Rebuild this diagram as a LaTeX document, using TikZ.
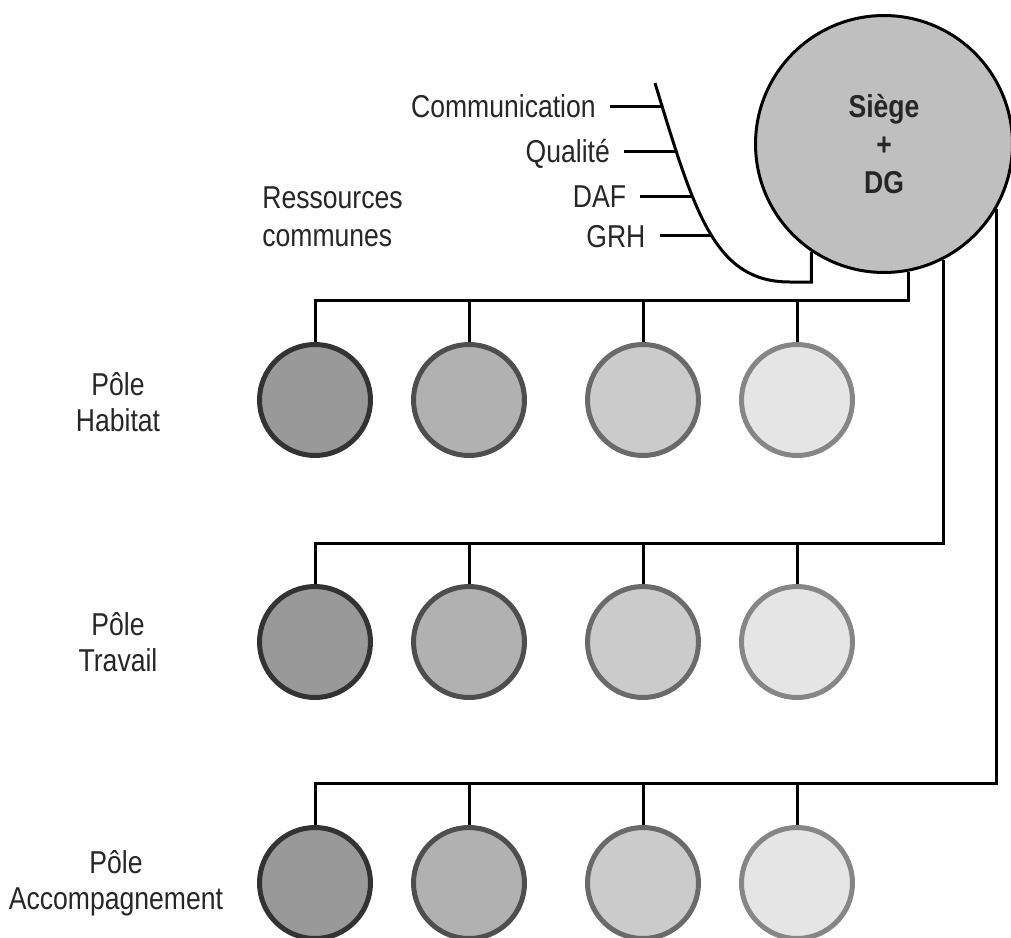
\documentclass[tikz,border=0pt]{standalone}
\usepackage{fontspec}
\setmainfont{Liberation Sans}[FakeStretch=0.84]
\usepackage{tikz}
\usetikzlibrary{positioning}
\definecolor{f1}{HTML}{999999}
\definecolor{f2}{HTML}{B1B1B1}
\definecolor{f3}{HTML}{CBCBCB}
\definecolor{f4}{HTML}{E5E5E5}
\definecolor{d1}{HTML}{333333}
\definecolor{d2}{HTML}{4E4E4E}
\definecolor{d3}{HTML}{6A6A6A}
\definecolor{d4}{HTML}{868686}
\tikzset{
    CI/.style ={circle, minimum size=2.22cm, inner sep=0pt, line width=0.1cm},
    SG/.style ={circle, minimum size=5.14cm, inner sep=0pt, draw, line width=0.06cm, fill=black!25,
                align=center, font=\bfseries\fontsize{18pt}{21.6pt}\selectfont, text=black!85},
    LB/.style ={inner ysep=0pt, inner xsep=0.28cm, text height=0.46cm, text depth=0pt,
                font=\fontsize{18pt}{20.5pt}\selectfont, text=black!85},
    PL/.style ={inner sep=0pt, align=center, font=\fontsize{18pt}{20.5pt}\selectfont, text=black!85},
    LN/.style ={line width=0.06cm}
}
\begin{document}
\begin{tikzpicture}[x=0.02cm,y=-0.02cm]
        \useasboundingbox (0,0) rectangle (1011,937);
        \node[SG] (siege) at (884,144) {Siège\\+\\DG};
        % poles
        \foreach \r/\y in {h/400,t/642,a/883}{
            \foreach \i/\x in {1/315,2/469,3/643,4/797}{
                \node[CI, fill=f\i, draw=d\i] (\r\i) at (\x,\y) {};}}
        \node[PL] (habitat) at (118,402) {Pôle\\Habitat};
        \node[PL] (travail) at (118,642) {Pôle\\Travail};
        \node[PL] (accomp) at (116,883) {Pôle\\Accompagnement};
        % bus lines
        \coordinate (bus1) at (315,300);
        \coordinate (bus2) at (315,543);
        \coordinate (bus3) at (315,783);
        \draw[LN] (siege.281) |- (bus1) -- (h1.north);
        \draw[LN] (siege.297) |- (bus2) -- (t1.north);
        \draw[LN] (siege.330) |- (bus3) -- (a1.north);
        \foreach \i in {2,3,4}{
            \draw[LN] (h\i.north) -- (h\i.north |- bus1);
            \draw[LN] (t\i.north) -- (t\i.north |- bus2);
            \draw[LN] (a\i.north) -- (a\i.north |- bus3);}
        % ressources communes
        \coordinate (rc) at (655,83);
        \draw[LN] (rc) .. controls (695,215) and (715,282) .. (790,282)
                  coordinate[pos=0.06] (k1) coordinate[pos=0.19] (k2)
                  coordinate[pos=0.345] (k3) coordinate[pos=0.52] (k4)
                  -| (siege.236);
        \node[LB, left=1.04cm of k1] (com) {Communication};
        \node[LB, left=1.04cm of k2] (qual) {Qualité};
        \node[LB, left=1.04cm of k3] (daf) {DAF};
        \node[LB, left=1.04cm of k4] (grh) {GRH};
        \foreach \n/\k in {com/k1,qual/k2,daf/k3,grh/k4}
            \draw[LN] (\n) -- (\k);
        \node[PL, align=left, anchor=west, font=\fontsize{18pt}{21.6pt}\selectfont] (ress) at (262,217) {Ressources\\communes};
\end{tikzpicture}
\end{document}
